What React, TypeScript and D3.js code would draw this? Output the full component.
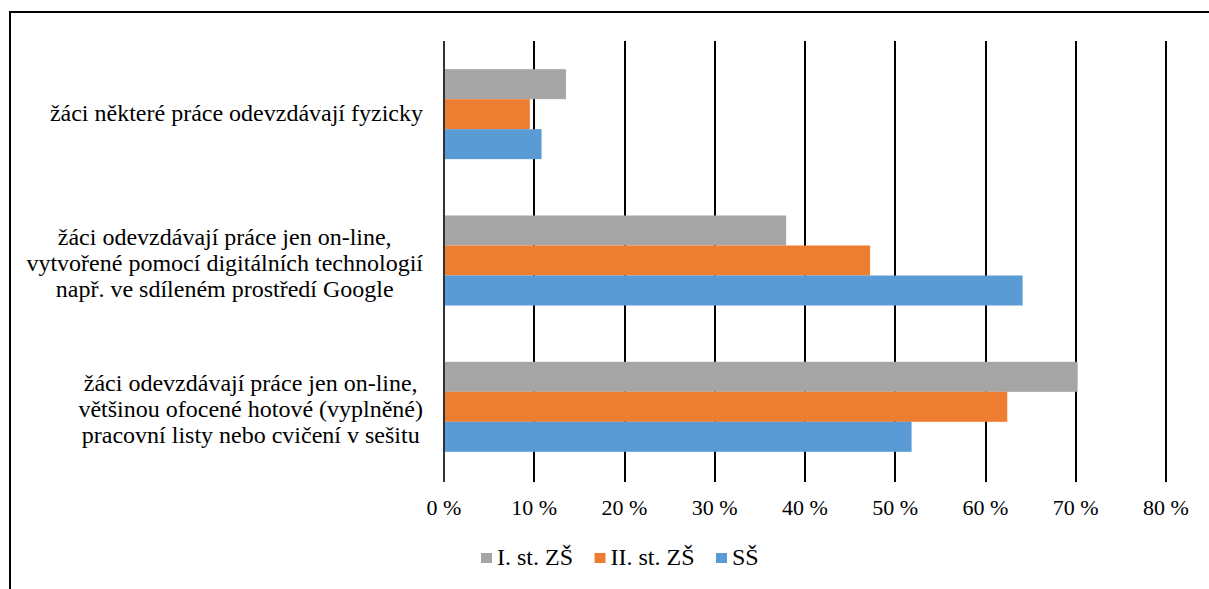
import React, { useEffect, useRef } from "react";
import * as d3 from "d3";

// categories, top to bottom (each one wrapped over lines like in the source)
const categories = [
  ["žáci některé práce odevzdávají fyzicky"],
  [
    "žáci odevzdávají práce jen on-line,",
    "vytvořené pomocí digitálních technologií",
    "např. ve sdíleném prostředí Google",
  ],
  [
    "žáci odevzdávají práce jen on-line,",
    "většinou ofocené hotové (vyplněné)",
    "pracovní listy nebo cvičení v sešitu",
  ],
];

const seriesNames = ["I. st. ZŠ", "II. st. ZŠ", "SŠ"];
const seriesColors = ["#A5A5A5", "#ED7D31", "#5B9BD5"];

// percent values per series, in category order
const firstStage = [13.4, 37.8, 70.1];
const secondStage = [9.4, 47.1, 62.3];
const highSchool = [10.7, 64.0, 51.7];
const seriesValues = [firstStage, secondStage, highSchool];

const tickValues = [0, 10, 20, 30, 40, 50, 60, 70, 80];

const App = () => {
  const svgRef = useRef<SVGSVGElement>(null);

  useEffect(() => {
    const w = 1209;
    const h = 589;
    const svg = d3.select(svgRef.current).attr("width", w).attr("height", h);
    svg.selectAll("*").remove();

    const font = "Liberation Serif";
    const labelSize = 24;
    const tickSize = 22;

    // outer frame (runs off the right and bottom edge)
    svg
      .append("rect")
      .attr("x", 10)
      .attr("y", 12)
      .attr("width", 1300)
      .attr("height", 700)
      .attr("fill", "#fff")
      .attr("stroke", "#000")
      .attr("stroke-width", 2);

    //scales
    const x = d3.scaleLinear().domain([0, 80]).range([445, 1167]);
    const yTop = 41;
    const yBottom = 480;
    const keys = categories.map((_, i) => String(i));
    const y = d3
      .scaleBand()
      .domain(keys)
      .range([yTop, yBottom])
      .paddingInner(0.385)
      .paddingOuter(0.1925);
    const ySub = d3
      .scaleBand()
      .domain(seriesNames)
      .range([0, y.bandwidth()]);

    // gridlines
    svg
      .append("g")
      .selectAll("line")
      .data(tickValues)
      .join("line")
      .attr("x1", (d) => Math.round(x(d)) - 1)
      .attr("x2", (d) => Math.round(x(d)) - 1)
      .attr("y1", yTop)
      .attr("y2", yBottom + 2)
      .attr("stroke", (d) => (d === 0 ? "#333" : "#000"))
      .attr("stroke-width", 2);

    // bars
    const groups = svg
      .append("g")
      .selectAll("g")
      .data(keys)
      .join("g")
      .attr("transform", (k) => `translate(0,${y(k)})`);
    groups
      .selectAll("rect")
      .data((k) =>
        seriesNames.map((s, si) => ({ s, si, v: seriesValues[si][+k] }))
      )
      .join("rect")
      .attr("x", x(0))
      .attr("y", (d) => ySub(d.s)!)
      .attr("width", (d) => x(d.v) - x(0))
      .attr("height", ySub.bandwidth())
      .attr("fill", (d) => seriesColors[d.si]);

    // category labels: lines centred, block pushed against the axis
    const lineH = 26;
    const labelRight = 423;
    svg
      .append("g")
      .selectAll("text")
      .data(keys)
      .join("text")
      .attr("font-family", font)
      .attr("font-size", labelSize)
      .attr("text-anchor", "middle")
      .attr("fill", "#000")
      .each(function (k) {
        const lines = categories[+k];
        const cy = y(k)! + y.bandwidth() / 2;
        const first =
          cy - ((lines.length - 1) * lineH) / 2 + 7 + (lines.length > 1 ? 3 : 0);
        const spans = d3
          .select(this)
          .selectAll("tspan")
          .data(lines)
          .join("tspan")
          .attr("y", (_, i) => first + i * lineH)
          .text((t) => t);
        let maxW = 0;
        spans.each(function () {
          maxW = Math.max(maxW, (this as SVGTextContentElement).getComputedTextLength());
        });
        spans.attr("x", labelRight - maxW / 2);
      });

    // x axis tick labels
    svg
      .append("g")
      .selectAll("text")
      .data(tickValues)
      .join("text")
      .attr("x", (d) => x(d) - 1)
      .attr("y", 515)
      .attr("text-anchor", "middle")
      .attr("font-family", font)
      .attr("font-size", tickSize)
      .text((d) => `${d} %`);

    // legend, laid out from the measured text widths
    const legend = svg.append("g").attr("transform", "translate(481,565)");
    let cursor = 0;
    seriesNames.forEach((name, i) => {
      legend
        .append("rect")
        .attr("x", cursor)
        .attr("y", -12)
        .attr("width", 11)
        .attr("height", 10)
        .attr("fill", seriesColors[i]);
      const t = legend
        .append("text")
        .attr("x", cursor + 16)
        .attr("y", 0)
        .attr("font-family", font)
        .attr("font-size", labelSize)
        .text(name);
      const tw = (t.node() as SVGTextElement).getComputedTextLength();
      cursor += 16 + tw + 21.5;
    });
  }, []);

  return (
    <svg
      ref={svgRef}
      style={{ position: "absolute", left: 0, top: 0, display: "block" }}
    ></svg>
  );
};

export default App;
